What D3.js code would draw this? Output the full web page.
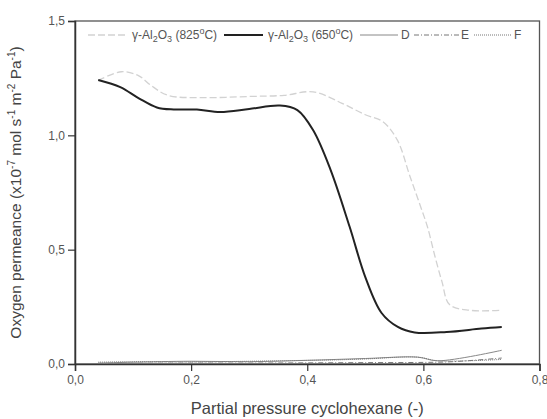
<!DOCTYPE html>
<html>
<head>
<meta charset="utf-8">
<script src="https://cdn.jsdelivr.net/npm/d3@7"></script>
<style>
  html, body { margin: 0; padding: 0; background: #fff; }
  svg { display: block; font-family: "Liberation Sans", Arial, sans-serif; }
</style>
</head>
<body>
<svg id="chart" width="547" height="419"></svg>
<script>
// Partial pressure of cyclohexane (x) vs oxygen permeance (y, x10^-7 mol s^-1 m^-2 Pa^-1)
const alumina825X = [0.04, 0.08, 0.11, 0.13, 0.16, 0.22, 0.30, 0.36, 0.41, 0.46, 0.50, 0.53, 0.555, 0.577, 0.595, 0.607, 0.62, 0.632, 0.645, 0.68, 0.735];
const alumina825Y = [1.24, 1.278, 1.26, 1.22, 1.175, 1.165, 1.17, 1.175, 1.19, 1.14, 1.09, 1.06, 0.98, 0.82, 0.69, 0.60, 0.47, 0.36, 0.26, 0.235, 0.235];

const alumina650X = [0.04, 0.078, 0.11, 0.141, 0.17, 0.21, 0.25, 0.30, 0.353, 0.383, 0.41, 0.44, 0.473, 0.50, 0.528, 0.556, 0.585, 0.64, 0.70, 0.735];
const alumina650Y = [1.242, 1.211, 1.162, 1.122, 1.113, 1.113, 1.102, 1.115, 1.13, 1.11, 1.023, 0.85, 0.60, 0.38, 0.223, 0.162, 0.138, 0.14, 0.155, 0.162];

const seriesDX = [0.04, 0.10, 0.20, 0.30, 0.40, 0.50, 0.59, 0.625, 0.735];
const seriesDY = [0.004, 0.008, 0.012, 0.010, 0.016, 0.024, 0.030, 0.014, 0.060];

const seriesEX = [0.04, 0.10, 0.20, 0.30, 0.40, 0.50, 0.60, 0.65, 0.735];
const seriesEY = [0.002, 0.003, 0.004, 0.004, 0.005, 0.006, 0.007, 0.010, 0.026];

const seriesFX = [0.04, 0.10, 0.20, 0.30, 0.40, 0.45, 0.50, 0.59, 0.625, 0.735];
const seriesFY = [0.008, 0.010, 0.009, 0.012, 0.016, 0.018, 0.022, 0.030, 0.014, 0.020];

const xTicks = [0.0, 0.2, 0.4, 0.6, 0.8];
const yTicks = [0.0, 0.5, 1.0, 1.5];

const svg = d3.select("#chart");
const margin = { left: 75, right: 7, top: 21, bottom: 55 };
const W = 547, H = 419;

const x = d3.scaleLinear().domain([0, 0.8]).range([margin.left, W - margin.right - 0.5]);
const y = d3.scaleLinear().domain([0, 1.5]).range([H - margin.bottom, margin.top]);

const fmt = d => d3.format(".1f")(d).replace(".", ",");

// frame (top and right edges)
svg.append("rect")
  .attr("x", x(0)).attr("y", y(1.5))
  .attr("width", x(0.8) - x(0)).attr("height", y(0) - y(1.5))
  .attr("fill", "none").attr("stroke", "#555").attr("stroke-width", 1.3);

// axes
const xAxis = svg.append("g")
  .attr("transform", `translate(0,${y(0)})`)
  .call(d3.axisBottom(x).tickValues(xTicks).tickFormat(fmt).tickSize(7).tickPadding(4));
const yAxis = svg.append("g")
  .attr("transform", `translate(${x(0)},0)`)
  .call(d3.axisLeft(y).tickValues(yTicks).tickFormat(fmt).tickSize(7).tickPadding(3));

[xAxis, yAxis].forEach(g => {
  g.select(".domain").attr("stroke", "#333").attr("stroke-width", 1.5);
  g.selectAll(".tick line").attr("stroke", "#333").attr("stroke-width", 1.2);
  g.selectAll(".tick text").attr("fill", "#555").attr("font-size", 12)
    .attr("font-family", "'Liberation Sans', Arial, sans-serif");
});

// axis titles
svg.append("text")
  .attr("x", (x(0) + x(0.8)) / 2).attr("y", 414)
  .attr("text-anchor", "middle").attr("font-size", 16.5).attr("fill", "#444")
  .text("Partial pressure cyclohexane (-)");

const yTitle = svg.append("text")
  .attr("transform", `translate(21,${(y(0) + y(1.5)) / 2}) rotate(-90)`)
  .attr("text-anchor", "middle").attr("font-size", 15.5).attr("fill", "#444");
[["Oxygen permeance (x10", "-7"], [" mol s", "-1"], [" m", "-2"], [" Pa", "-1"]].forEach(([base, sup], i) => {
  const b = yTitle.append("tspan").text(base);
  if (i > 0) b.attr("dy", 6);
  yTitle.append("tspan").attr("dy", -6).attr("font-size", 10).text(sup);
});
yTitle.append("tspan").attr("dy", 6).text(")");

// series
const series = [
  { xs: alumina825X, ys: alumina825Y, stroke: "#d2d2d2", width: 1.3, dash: "7,3" },
  { xs: alumina650X, ys: alumina650Y, stroke: "#222", width: 2, dash: null },
  { xs: seriesDX, ys: seriesDY, stroke: "#888", width: 1, dash: null },
  { xs: seriesEX, ys: seriesEY, stroke: "#777", width: 1, dash: "5,2,1,2" },
  { xs: seriesFX, ys: seriesFY, stroke: "#777", width: 1, dash: "1,1" }
];

const line = d3.line().curve(d3.curveCatmullRom.alpha(0.5));
series.forEach(s => {
  svg.append("path")
    .attr("d", line(s.xs.map((v, i) => [x(v), y(s.ys[i])])))
    .attr("fill", "none")
    .attr("stroke", s.stroke)
    .attr("stroke-width", s.width)
    .attr("stroke-dasharray", s.dash);
});

// legend: sample line followed by label
const legendY = 35;
function legendLabel(xPos, parts, color) {
  const t = svg.append("text").attr("x", xPos).attr("y", legendY + 4)
    .attr("font-size", 12).attr("fill", color);
  parts.forEach(p => {
    const ts = t.append("tspan").text(p.t);
    if (p.dy) ts.attr("dy", p.dy);
    if (p.fs) ts.attr("font-size", p.fs);
  });
}
function legendLine(x1, x2, s) {
  svg.append("line").attr("x1", x1).attr("x2", x2).attr("y1", legendY).attr("y2", legendY)
    .attr("stroke", s.stroke).attr("stroke-width", s.width).attr("stroke-dasharray", s.dash);
}
const alLabel = t => [
  { t: "γ-Al" }, { t: "2", dy: 3, fs: 9 }, { t: "O", dy: -3 }, { t: "3", dy: 3, fs: 9 },
  { t: " (" + t, dy: -3 }, { t: "o", dy: -5, fs: 9 }, { t: "C)", dy: 5 }
];
legendLine(88, 128, series[0]);
legendLabel(132, alLabel("825"), "#555");
legendLine(224, 263, series[1]);
legendLabel(268, alLabel("650"), "#555");
legendLine(360, 398, series[2]);
legendLabel(401, [{ t: "D" }], "#555");
legendLine(414, 459, series[3]);
legendLabel(461, [{ t: "E" }], "#555");
legendLine(474, 512, series[4]);
legendLabel(514, [{ t: "F" }], "#555");
</script>
</body>
</html>
